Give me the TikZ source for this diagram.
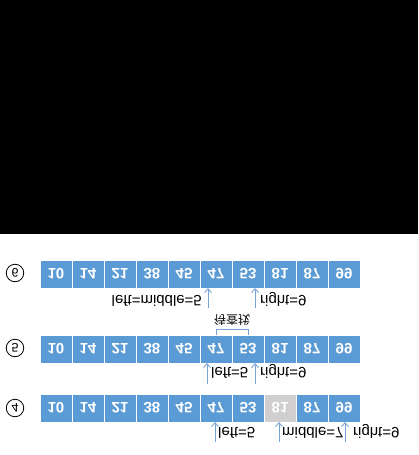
\documentclass[tikz,border=0pt]{standalone}
\usepackage{fontspec}
\setmainfont{Liberation Sans}
\newfontfamily\cjkfont{Noto Sans CJK SC}
\usepackage{tikz}
\usetikzlibrary{arrows.meta,positioning}
\definecolor{cellblue}{RGB}{91,155,213}
\definecolor{cellgray}{RGB}{208,206,206}
\definecolor{ptrblue}{RGB}{120,162,214}
\tikzset{
  cellbox/.style={fill=cellblue, draw=white, line width=0.8pt, minimum width=32pt, minimum height=28pt, inner sep=0pt, outer sep=0pt, text=white, font=\fontsize{15}{17}\selectfont\bfseries},
  hitbox/.style={cellbox, fill=cellgray},
  ptrarrow/.style={-{Straight Barb[length=4pt,width=7pt]}, line width=0.9pt, draw=ptrblue},
  ptrlabel/.style={inner sep=0pt, font=\fontsize{15}{17}\selectfont},
  stepmark/.style={draw, circle, line width=0.8pt, minimum size=17.5pt, inner sep=0pt, font=\fontsize{12.5}{14}\selectfont},
  spanline/.style={draw=ptrblue, line width=0.9pt},
  spanlabel/.style={inner sep=0pt, font=\cjkfont\fontsize{12}{14}\selectfont}
}

\begin{document}
\begin{tikzpicture}[x=1pt, y=1pt, yscale=-1, transform shape]
    \useasboundingbox (0,0) rectangle (418,455);
    \fill[black] (0,0) rectangle (418,233.5);
    % step 4
    \node[stepmark] (s4) at (15,408) {4};
    \foreach \v/\s [count=\i] in {10/cellbox,14/cellbox,21/cellbox,38/cellbox,45/cellbox,47/cellbox,53/cellbox,81/hitbox,87/cellbox,99/cellbox}
      \node[\s] (d\i) at (24+32*\i,408) {\v};
    \coordinate (dl) at (215,442);
    \coordinate (dm) at (279,442);
    \coordinate (dr) at (345,442);
    \draw[ptrarrow] (dl) -- (dl |- d6.north);
    \draw[ptrarrow] (dm) -- (dm |- d8.north);
    \draw[ptrarrow] (dr) -- (dr |- d10.north);
    \node[ptrlabel, anchor=base west] (dltext) at (218,427.5) {left=5};
    \node[ptrlabel, anchor=base west] (dmtext) at (282,427.5) {middle=7};
    \node[ptrlabel, anchor=base west] (drtext) at (353,427.5) {right=9};
    % step 5
    \node[stepmark] (s5) at (15,348) {5};
    \foreach \v [count=\i] in {10,14,21,38,45,47,53,81,87,99}
      \node[cellbox] (e\i) at (24+32*\i,349) {\v};
    \coordinate (el) at (207,384);
    \coordinate (er) at (255,384);
    \draw[ptrarrow] (el) -- (el |- e6.north);
    \draw[ptrarrow] (er) -- (er |- e7.north);
    \node[ptrlabel, anchor=base west] (eltext) at (211,367.5) {left=5};
    \node[ptrlabel, anchor=base west] (ertext) at (260,367.5) {right=9};
    \draw[spanline] (e6.south) -- ++(0,-6) -| (e7.south);
    \node[spanlabel] (espan) at (232,320) {待查找};
    % step 6
    \node[stepmark] (s6) at (15,273) {6};
    \foreach \v [count=\i] in {10,14,21,38,45,47,53,81,87,99}
      \node[cellbox] (f\i) at (24+32*\i,274) {\v};
    \coordinate (fl) at (208,308);
    \coordinate (fr) at (255,308);
    \draw[ptrarrow] (fl) -- (fl |- f6.north);
    \draw[ptrarrow] (fr) -- (fr |- f7.north);
    \node[ptrlabel, anchor=base east] (fltext) at (202,295) {left=middle=5};
    \node[ptrlabel, anchor=base west] (frtext) at (260,295) {right=9};
  \end{tikzpicture}
\end{document}
